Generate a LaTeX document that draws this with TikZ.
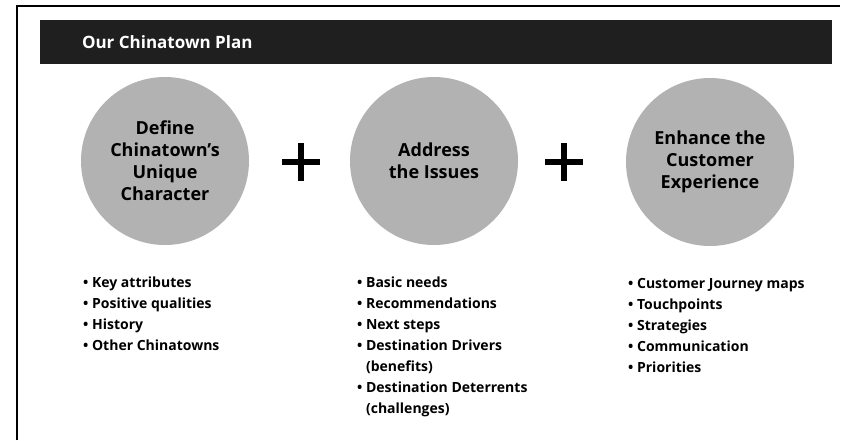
\documentclass[tikz,border=0pt]{standalone}
\usepackage{fontspec}
\setmainfont{Open Sans}
\usetikzlibrary{positioning}
\newcommand{\itm}{\textbullet\ }
\newcommand{\itmgap}{\phantom{\textbullet\ }}
\tikzset{
  banner/.style={
    rectangle, fill=black!88, inner sep=0pt,
    minimum width=792pt, minimum height=44pt
  },
  heading/.style={
    anchor=west, inner sep=0pt, text=white,
    font=\fontsize{17}{20}\selectfont\bfseries
  },
  topic/.style={
    circle, fill=black!30, inner sep=0pt,
    minimum size=168pt, align=center,
    font=\fontsize{18}{22}\selectfont\bfseries
  },
  plus/.style={
    inner sep=0pt, minimum size=38pt,
    path picture={
      \draw[line width=6pt]
        (path picture bounding box.north) -- (path picture bounding box.south)
        (path picture bounding box.west) -- (path picture bounding box.east);
    }
  },
  % anchored at the baseline of the last line
  items/.style={
    anchor=base west, inner sep=0pt, align=left,
    font=\fontsize{14}{21}\selectfont\bfseries
  },
  frame/.style={line width=1.6pt, draw=black}
}

\begin{document}
\begin{tikzpicture}[x=1pt, y=-1pt]
  \useasboundingbox (0,0) rectangle (845,440);
  \draw[frame] (17,440) -- (17,6) -- (840,6);

  % title bar
  \node[banner] (banner) at (436,42) {};
  \node[heading, right=42pt of banner.west] (title) {Our Chinatown Plan};

  % three parts of the plan
  \node[topic] (define) at (165,161) {Define\\Chinatown's\\Unique\\Character};
  \node[topic] (address) at (434,161) {Address\\the Issues};
  \node[topic] (enhance) at (710,162) {Enhance the\\Customer\\Experience};
  \node[plus] (plusA) at (301,162) {};
  \node[plus] (plusB) at (564,162) {};

  % lists under each circle
  \node[items] (defineList) at (83,350) {%
    \itm Key attributes\\
    \itm Positive qualities\\
    \itm History\\
    \itm Other Chinatowns};
  \node[items] (addressList) at (357,413) {%
    \itm Basic needs\\
    \itm Recommendations\\
    \itm Next steps\\
    \itm Destination Drivers\\
    \itmgap(benefits)\\
    \itm Destination Deterrents\\
    \itmgap(challenges)};
  \node[items] (enhanceList) at (628,372) {%
    \itm Customer Journey maps\\
    \itm Touchpoints\\
    \itm Strategies\\
    \itm Communication\\
    \itm Priorities};
\end{tikzpicture}
\end{document}
